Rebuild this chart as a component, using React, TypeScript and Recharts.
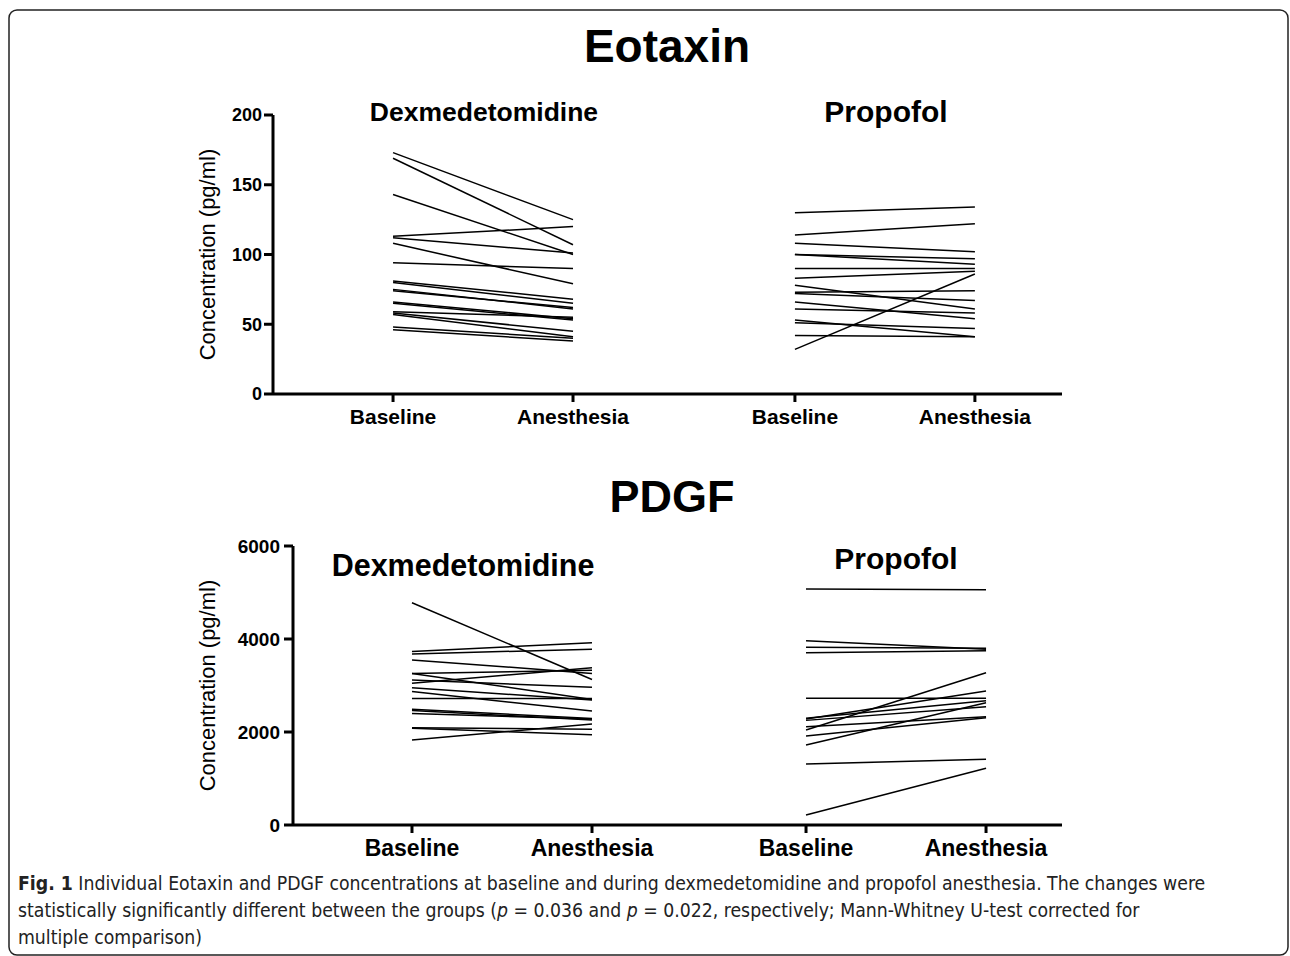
import { LineChart, Line, XAxis, YAxis } from "recharts";

// x-axis categories (two groups: dexmedetomidine, propofol)
const groupLabels = ["Baseline", "Anesthesia", "Baseline", "Anesthesia"];

// Eotaxin (pg/ml)
const eotaxinDexBaseline = [173, 169, 143, 113, 112, 108, 94, 81, 80, 75, 74, 66, 65, 59, 58, 57, 48, 46];
const eotaxinDexAnesthesia = [125, 107, 100, 120, 101, 79, 90, 68, 65, 61, 62, 54, 53, 55, 45, 41, 40, 38];
const eotaxinPropBaseline = [130, 114, 108, 100, 100, 90, 83, 78, 73, 72, 66, 61, 53, 51, 42, 32];
const eotaxinPropAnesthesia = [134, 122, 102, 93, 97, 90, 88, 61, 74, 67, 54, 58, 41, 47, 41, 86];
const eotaxinTicks = [0, 50, 100, 150, 200];

// PDGF (pg/ml)
const pdgfDexBaseline = [4780, 3730, 3680, 3550, 3260, 3260, 3120, 3050, 2950, 2870, 2720, 2490, 2460, 2400, 2090, 2080, 1830];
const pdgfDexAnesthesia = [3130, 3920, 3780, 3260, 2700, 3330, 2960, 3380, 2690, 2450, 2720, 2290, 2260, 2280, 2060, 1940, 2170];
const pdgfPropBaseline = [5075, 3964, 3821, 3706, 2724, 2294, 2280, 2250, 2115, 2043, 1914, 1720, 1312, 215];
const pdgfPropAnesthesia = [5061, 3778, 3799, 3749, 2724, 2674, 2882, 2545, 2330, 3276, 2308, 2631, 1412, 1219];
const pdgfTicks = [0, 2000, 4000, 6000];

const FONT = "'Liberation Sans', Arial, Helvetica, sans-serif";

type Row = { x: number; [key: string]: number };

function buildRows(xs: number[], dexB: number[], dexA: number[], propB: number[], propA: number[]) {
  const rows: Row[] = xs.map((x) => ({ x }));
  dexB.forEach((v, i) => {
    rows[0][`d${i}`] = v;
    rows[1][`d${i}`] = dexA[i];
  });
  propB.forEach((v, i) => {
    rows[2][`p${i}`] = v;
    rows[3][`p${i}`] = propA[i];
  });
  return rows;
}

interface PanelProps {
  top: number;
  height: number;
  plotLeft: number;
  plotTop: number;
  plotBottom: number;
  plotRight: number;
  xs: number[];
  xDomain: [number, number];
  yMax: number;
  yTicks: number[];
  rows: Row[];
  nDex: number;
  nProp: number;
  yTickSize: number;
  xTickSize: number;
  yTickMargin: number;
  labelOffset: number;
}

function Panel(p: PanelProps) {
  const yAxisWidth = 80;
  const xAxisHeight = 40;
  const keys = [
    ...Array.from({ length: p.nDex }, (_, i) => `d${i}`),
    ...Array.from({ length: p.nProp }, (_, i) => `p${i}`),
  ];
  return (
    <div style={{ position: "absolute", left: 0, top: p.top }}>
      <LineChart
        width={1290}
        height={p.height}
        data={p.rows}
        margin={{
          top: p.plotTop,
          left: p.plotLeft - yAxisWidth,
          right: 1290 - p.plotRight,
          bottom: p.height - p.plotBottom - xAxisHeight,
        }}
      >
        <XAxis
          dataKey="x"
          type="number"
          domain={p.xDomain}
          ticks={p.xs}
          interval={0}
          height={xAxisHeight}
          tickFormatter={(v: number) => groupLabels[p.xs.indexOf(v)] ?? ""}
          axisLine={{ stroke: "#000", strokeWidth: 3 }}
          tickLine={{ stroke: "#000", strokeWidth: 3 }}
          tickSize={8}
          tickMargin={7}
          tick={{ fill: "#000", fontSize: p.xTickSize, fontWeight: 700, fontFamily: FONT }}
        />
        <YAxis
          type="number"
          domain={[0, p.yMax]}
          ticks={p.yTicks}
          interval={0}
          width={yAxisWidth}
          axisLine={{ stroke: "#000", strokeWidth: 3 }}
          tickLine={{ stroke: "#000", strokeWidth: 3 }}
          tickSize={9}
          tickMargin={p.yTickMargin}
          tick={{ fill: "#000", fontSize: p.yTickSize, fontWeight: 700, fontFamily: FONT }}
          label={{
            value: "Concentration (pg/ml)",
            angle: -90,
            position: "insideLeft",
            offset: p.labelOffset,
            style: { textAnchor: "middle", fill: "#000", fontSize: 22, fontFamily: FONT },
          }}
        />
        {keys.map((k) => (
          <Line
            key={k}
            dataKey={k}
            stroke="#000"
            strokeWidth={1.5}
            dot={false}
            activeDot={false}
            isAnimationActive={false}
          />
        ))}
      </LineChart>
    </div>
  );
}

const topXs = [1, 2, 3.233, 4.233];
const bottomXs = [1, 2, 3.189, 4.189];

export default function App() {
  const eotaxinRows = buildRows(topXs, eotaxinDexBaseline, eotaxinDexAnesthesia, eotaxinPropBaseline, eotaxinPropAnesthesia);
  const pdgfRows = buildRows(bottomXs, pdgfDexBaseline, pdgfDexAnesthesia, pdgfPropBaseline, pdgfPropAnesthesia);

  return (
    <div style={{ position: "absolute", left: 0, top: 0, width: 1290, height: 956, background: "#fff", overflow: "hidden" }}>
      <Panel
        top={0}
        height={440}
        plotLeft={273}
        plotTop={115}
        plotBottom={394}
        plotRight={1062}
        xs={topXs}
        xDomain={[0.333, 4.717]}
        yMax={200}
        yTicks={eotaxinTicks}
        rows={eotaxinRows}
        nDex={eotaxinDexBaseline.length}
        nProp={eotaxinPropBaseline.length}
        yTickSize={18}
        xTickSize={21}
        yTickMargin={2}
        labelOffset={14}
      />
      <Panel
        top={440}
        height={440}
        plotLeft={293}
        plotTop={106}
        plotBottom={385}
        plotRight={1062}
        xs={bottomXs}
        xDomain={[0.339, 4.611]}
        yMax={6000}
        yTicks={pdgfTicks}
        rows={pdgfRows}
        nDex={pdgfDexBaseline.length}
        nProp={pdgfPropBaseline.length}
        yTickSize={19}
        xTickSize={23}
        yTickMargin={4}
        labelOffset={-6}
      />
      <svg width={1290} height={956} style={{ position: "absolute", left: 0, top: 0, pointerEvents: "none" }}>
        <rect x={9} y={10} width={1279} height={945} rx={8} ry={8} fill="none" stroke="#222" strokeWidth={1.5} />
        <g fontFamily={FONT} fontWeight={700} fill="#000" textAnchor="middle">
          <text x={667} y={62} fontSize={46}>Eotaxin</text>
          <text x={484} y={121} fontSize={26.5}>Dexmedetomidine</text>
          <text x={886} y={122} fontSize={30}>Propofol</text>
          <text x={672} y={512} fontSize={45}>PDGF</text>
          <text x={463} y={576} fontSize={30.5}>Dexmedetomidine</text>
          <text x={896} y={569} fontSize={30}>Propofol</text>
        </g>
        <g fontFamily="'Liberation Sans Narrow', 'DejaVu Sans Condensed', sans-serif" fontSize={19.25} fill="#222">
          <text x={18} y={890}>
            <tspan fontWeight={700}>Fig. 1</tspan> Individual Eotaxin and PDGF concentrations at baseline and during dexmedetomidine and propofol anesthesia. The changes were
          </text>
          <text x={18} y={917}>
            statistically significantly different between the groups (<tspan fontStyle="italic">p</tspan> = 0.036 and <tspan fontStyle="italic">p</tspan> = 0.022, respectively; Mann-Whitney U-test corrected for
          </text>
          <text x={18} y={944}>multiple comparison)</text>
        </g>
      </svg>
    </div>
  );
}
